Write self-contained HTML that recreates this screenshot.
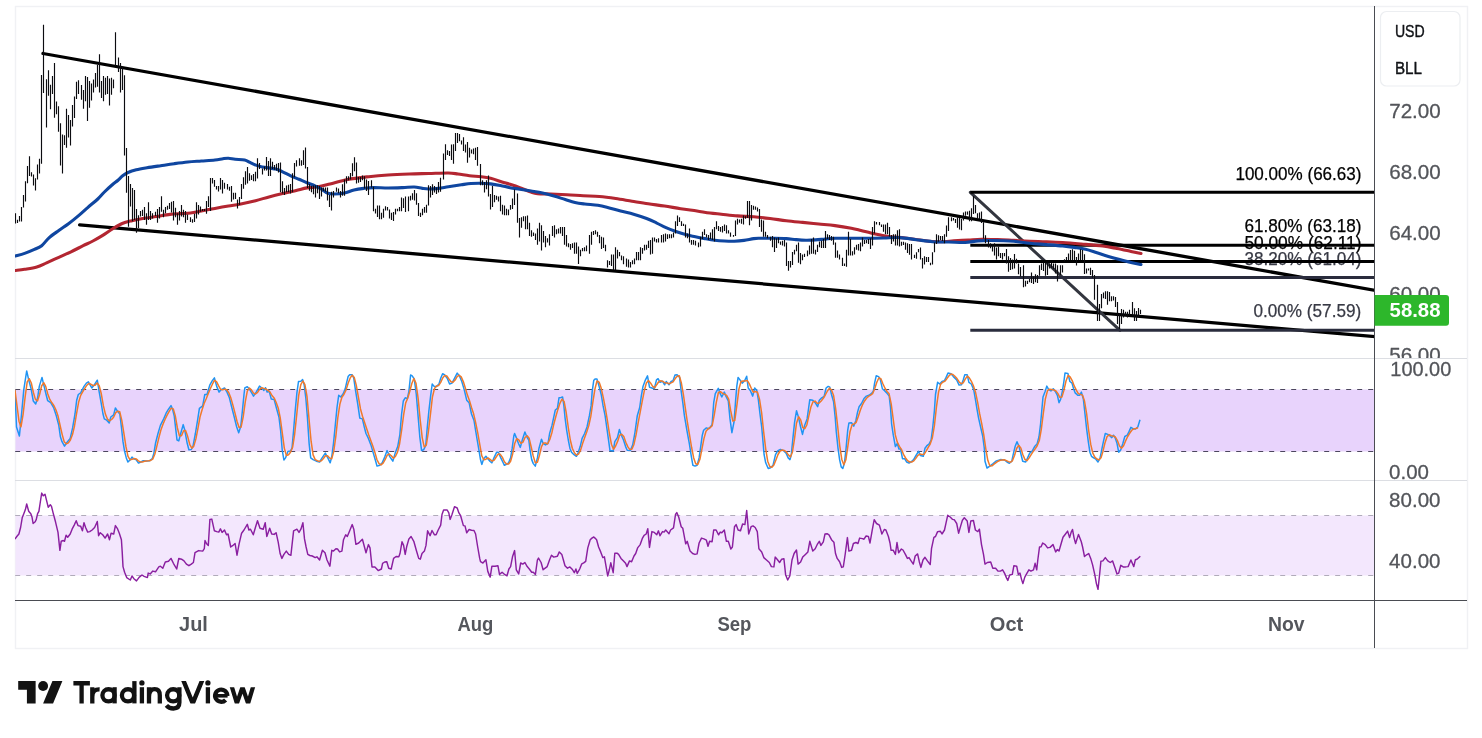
<!DOCTYPE html><html><head><meta charset="utf-8"><title>Chart</title><style>html,body{margin:0;padding:0;background:#fff}body{width:1482px;height:738px;overflow:hidden}</style></head><body><svg width="1482" height="738" viewBox="0 0 1482 738" style="display:block;font-family:'Liberation Sans',sans-serif;will-change:transform;transform:translateZ(0)"><defs><clipPath id="cm"><rect x="15" y="6" width="1359.5" height="352"/></clipPath><clipPath id="ca"><rect x="1375" y="6" width="92" height="352"/></clipPath><clipPath id="cs"><rect x="15" y="359" width="1359.5" height="121"/></clipPath><clipPath id="cr"><rect x="15" y="481" width="1359.5" height="119"/></clipPath></defs><rect width="1482" height="738" fill="#fff"/><rect x="15.5" y="6.5" width="1452" height="642" fill="none" stroke="#f0f1f4" stroke-width="1.4"/><rect x="15.5" y="389.5" width="1359" height="62" fill="#e8d3fc"/><path d="M15.2 389.5H1374M15.2 451.5H1374" stroke="#4d475f" stroke-width="1" stroke-dasharray="5 6" fill="none"/><rect x="15.5" y="515.5" width="1359" height="60" fill="#f3e7fd"/><path d="M15.2 515.5H1374M15.2 575.5H1374" stroke="#b0abba" stroke-width="1" stroke-dasharray="5 6" fill="none"/><path d="M15 358.5H1467M15 480.5H1467" stroke="#dcdee3" stroke-width="1" fill="none"/><g clip-path="url(#cm)"><path d="M43 53.5L1376 290.57M79.6 224.9L1376 336.78" stroke="#000" stroke-width="3.3" stroke-linecap="round" fill="none"/><path d="M970.3 192.3L1120 330.3" stroke="#33363f" stroke-width="3" stroke-linecap="round" fill="none"/><text x="1235.4" y="180" font-size="17.8" fill="#000" stroke="#000" stroke-width="0.25" stroke-linejoin="round" font-weight="normal" textLength="126.1" lengthAdjust="spacingAndGlyphs">100.00% (66.63)</text><text x="1244.4" y="232" font-size="17.8" fill="#000" stroke="#000" stroke-width="0.25" stroke-linejoin="round" font-weight="normal" textLength="117.1" lengthAdjust="spacingAndGlyphs">61.80% (63.18)</text><text x="1244.4" y="248.6" font-size="17.8" fill="#000" stroke="#000" stroke-width="0.25" stroke-linejoin="round" font-weight="normal" textLength="117.1" lengthAdjust="spacingAndGlyphs">50.00% (62.11)</text><text x="1244.4" y="264.8" font-size="17.8" fill="#383a45" stroke="#383a45" stroke-width="0.25" stroke-linejoin="round" font-weight="normal" textLength="117.1" lengthAdjust="spacingAndGlyphs">38.20% (61.04)</text><text x="1253.5" y="317.4" font-size="17.8" fill="#383a45" stroke="#383a45" stroke-width="0.25" stroke-linejoin="round" font-weight="normal" textLength="107.7" lengthAdjust="spacingAndGlyphs">0.00% (57.59)</text><path d="M970.3 192.3H1375" stroke="#000" stroke-width="3" fill="none"/><path d="M970.3 245.3H1375" stroke="#000" stroke-width="3" fill="none"/><path d="M970.3 261.5H1375" stroke="#000" stroke-width="3" fill="none"/><path d="M970.3 277.4H1375" stroke="#2a2c3d" stroke-width="3" fill="none"/><path d="M970.3 330.3H1375" stroke="#2a2c3d" stroke-width="3" fill="none"/><path d="M15.5 270.5C17.02 270.30 21.05 269.88 24.6 269.3C28.15 268.72 33.13 268.08 36.8 267C40.47 265.92 42.93 264.42 46.6 262.8C50.27 261.18 54.73 259.13 58.8 257.3C62.87 255.47 66.93 253.73 71 251.8C75.07 249.87 79.55 247.50 83.2 245.7C86.85 243.90 89.65 242.72 92.9 241C96.15 239.28 99.45 237.40 102.7 235.4C105.95 233.40 109.15 230.98 112.4 229C115.65 227.02 118.93 224.88 122.2 223.5C125.47 222.12 128.35 221.57 132 220.7C135.65 219.83 140.05 219.00 144.1 218.3C148.15 217.60 151.98 217.15 156.3 216.5C160.62 215.85 165.92 214.88 170 214.4C174.08 213.92 177.38 213.83 180.8 213.6C184.22 213.37 187.08 213.43 190.5 213C193.92 212.57 197.23 211.77 201.3 211C205.37 210.23 210.38 209.23 214.9 208.4C219.42 207.57 223.88 206.78 228.4 206C232.92 205.22 237.48 204.58 242 203.7C246.52 202.82 251.00 201.83 255.5 200.7C260.00 199.57 264.48 198.10 269 196.9C273.52 195.70 278.07 194.58 282.6 193.5C287.13 192.42 292.13 191.33 296.2 190.4C300.27 189.47 303.37 188.50 307 187.9C310.63 187.30 314.17 187.45 318 186.8C321.83 186.15 325.08 185.22 330 184C334.92 182.78 341.05 180.72 347.5 179.5C353.95 178.28 361.95 177.45 368.7 176.7C375.45 175.95 381.23 175.45 388 175C394.77 174.55 402.50 174.25 409.3 174C416.10 173.75 422.30 173.67 428.8 173.5C435.30 173.33 443.43 172.92 448.3 173C453.17 173.08 454.47 173.55 458 174C461.53 174.45 465.68 175.25 469.5 175.7C473.32 176.15 477.38 176.27 480.9 176.7C484.42 177.13 487.08 177.43 490.6 178.3C494.12 179.17 498.77 180.90 502 181.9C505.23 182.90 507.03 183.35 510 184.3C512.97 185.25 516.30 186.32 519.8 187.6C523.30 188.88 528.03 191.00 531 192C533.97 193.00 534.32 193.27 537.6 193.6C540.88 193.93 545.80 193.82 550.7 194C555.60 194.18 561.58 194.42 567 194.7C572.42 194.98 577.80 195.40 583.2 195.7C588.60 196.00 593.98 196.03 599.4 196.5C604.82 196.97 610.27 197.72 615.7 198.5C621.13 199.28 626.58 200.32 632 201.2C637.42 202.08 642.78 203.00 648.2 203.8C653.62 204.60 659.08 205.18 664.5 206C669.92 206.82 675.28 207.87 680.7 208.7C686.12 209.53 692.12 210.28 697 211C701.88 211.72 705.95 212.47 710 213C714.05 213.53 716.72 213.72 721.3 214.2C725.88 214.68 732.08 215.47 737.5 215.9C742.92 216.33 748.38 216.37 753.8 216.8C759.22 217.23 764.58 217.85 770 218.5C775.42 219.15 780.87 220.05 786.3 220.7C791.73 221.35 797.18 221.85 802.6 222.4C808.02 222.95 813.40 223.47 818.8 224C824.20 224.53 829.58 224.90 835 225.6C840.42 226.30 846.97 227.38 851.3 228.2C855.63 229.02 857.73 229.70 861 230.5C864.27 231.30 867.63 232.25 870.9 233C874.17 233.75 877.35 234.38 880.6 235C883.85 235.62 886.33 236.20 890.4 236.7C894.47 237.20 900.07 237.45 905 238C909.93 238.55 915.42 239.42 920 240C924.58 240.58 928.50 241.22 932.5 241.5C936.50 241.78 940.47 241.80 944 241.7C947.53 241.60 949.65 241.18 953.7 240.9C957.75 240.62 963.70 240.28 968.3 240C972.90 239.72 976.42 239.27 981.3 239.2C986.18 239.13 992.18 239.40 997.6 239.6C1003.02 239.80 1008.40 240.13 1013.8 240.4C1019.20 240.67 1024.58 240.98 1030 241.2C1035.42 241.42 1040.87 241.48 1046.3 241.7C1051.73 241.92 1056.77 242.12 1062.6 242.5C1068.43 242.88 1074.62 243.42 1081.3 244C1087.98 244.58 1096.77 245.25 1102.7 246C1108.63 246.75 1112.18 247.60 1116.9 248.5C1121.62 249.40 1126.98 250.57 1131 251.4C1135.02 252.23 1139.33 253.15 1141 253.5" fill="none" stroke="#b32631" stroke-width="3.1" stroke-linejoin="round" stroke-linecap="round"/><path d="M15.5 255.9C17.02 255.48 21.45 254.48 24.6 253.4C27.75 252.32 31.55 250.68 34.4 249.4C37.25 248.12 39.27 247.63 41.7 245.7C44.13 243.77 46.15 240.33 49 237.8C51.85 235.27 55.55 232.83 58.8 230.5C62.05 228.17 65.25 226.23 68.5 223.8C71.75 221.37 75.05 218.65 78.3 215.9C81.55 213.15 84.75 210.12 88 207.3C91.25 204.48 95.07 201.55 97.8 199C100.53 196.45 102.03 194.33 104.4 192C106.77 189.67 109.73 186.95 112 185C114.27 183.05 116.22 181.83 118 180.3C119.78 178.77 121.03 177.10 122.7 175.8C124.37 174.50 125.73 173.50 128 172.5C130.27 171.50 133.13 170.58 136.3 169.8C139.47 169.02 142.93 168.48 147 167.8C151.07 167.12 156.17 166.38 160.7 165.7C165.23 165.02 169.68 164.32 174.2 163.7C178.72 163.08 183.28 162.45 187.8 162C192.32 161.55 196.78 161.33 201.3 161C205.82 160.67 211.28 160.38 214.9 160C218.52 159.62 220.75 158.98 223 158.7C225.25 158.42 226.37 158.22 228.4 158.3C230.43 158.38 232.48 158.92 235.2 159.2C237.92 159.48 242.23 159.47 244.7 160C247.17 160.53 248.20 161.57 250 162.4C251.80 163.23 253.45 164.23 255.5 165C257.55 165.77 258.92 166.33 262.3 167C265.68 167.67 272.42 168.20 275.8 169C279.18 169.80 280.12 170.65 282.6 171.8C285.08 172.95 287.98 174.65 290.7 175.9C293.42 177.15 296.18 178.17 298.9 179.3C301.62 180.43 304.32 181.62 307 182.7C309.68 183.78 312.58 184.72 315 185.8C317.42 186.88 319.33 187.95 321.5 189.2C323.67 190.45 325.83 192.50 328 193.3C330.17 194.10 331.78 194.05 334.5 194C337.22 193.95 341.05 193.67 344.3 193C347.55 192.33 350.75 190.77 354 190C357.25 189.23 360.55 188.80 363.8 188.4C367.05 188.00 369.47 187.67 373.5 187.6C377.53 187.53 383.12 188.00 388 188C392.88 188.00 398.43 187.77 402.8 187.6C407.17 187.43 410.95 186.87 414.2 187C417.45 187.13 419.87 188.07 422.3 188.4C424.73 188.73 426.08 189.00 428.8 189C431.52 189.00 435.35 188.77 438.6 188.4C441.85 188.03 444.52 187.40 448.3 186.8C452.08 186.20 457.52 185.35 461.3 184.8C465.08 184.25 467.73 183.77 471 183.5C474.27 183.23 477.63 183.13 480.9 183.2C484.17 183.27 487.35 183.52 490.6 183.9C493.85 184.28 497.17 184.87 500.4 185.5C503.63 186.13 506.77 187.08 510 187.7C513.23 188.32 516.30 188.65 519.8 189.2C523.30 189.75 527.22 190.37 531 191C534.78 191.63 538.67 192.17 542.5 193C546.33 193.83 550.20 194.90 554 196C557.80 197.10 561.80 198.52 565.3 199.6C568.80 200.68 571.75 201.77 575 202.5C578.25 203.23 581.00 203.53 584.8 204C588.60 204.47 594.00 204.73 597.8 205.3C601.60 205.87 603.80 206.45 607.6 207.4C611.40 208.35 616.27 209.87 620.6 211C624.93 212.13 629.27 212.95 633.6 214.2C637.93 215.45 642.82 217.07 646.6 218.5C650.38 219.93 653.07 221.27 656.3 222.8C659.53 224.33 662.73 226.25 666 227.7C669.27 229.15 672.63 230.35 675.9 231.5C679.17 232.65 682.35 233.73 685.6 234.6C688.85 235.47 692.17 236.03 695.4 236.7C698.63 237.37 701.77 238.02 705 238.6C708.23 239.18 711.55 239.80 714.8 240.2C718.05 240.60 721.25 240.83 724.5 241C727.75 241.17 731.05 241.30 734.3 241.2C737.55 241.10 740.75 240.83 744 240.4C747.25 239.97 751.08 238.95 753.8 238.6C756.52 238.25 757.05 238.35 760.3 238.3C763.55 238.25 768.97 238.25 773.3 238.3C777.63 238.35 782.52 238.38 786.3 238.6C790.08 238.82 792.75 239.33 796 239.6C799.25 239.87 802.53 240.15 805.8 240.2C809.07 240.25 812.35 240.10 815.6 239.9C818.85 239.70 822.07 239.27 825.3 239C828.53 238.73 830.67 238.42 835 238.3C839.33 238.18 845.87 238.30 851.3 238.3C856.73 238.30 862.17 238.35 867.6 238.3C873.03 238.25 878.50 238.12 883.9 238C889.30 237.88 894.60 237.32 900 237.6C905.40 237.88 910.88 239.02 916.3 239.7C921.72 240.38 927.08 241.32 932.5 241.7C937.92 242.08 943.38 241.87 948.8 242C954.22 242.13 960.13 242.68 965 242.5C969.87 242.32 973.67 241.23 978 240.9C982.33 240.57 985.03 240.43 991 240.5C996.97 240.57 1007.30 240.83 1013.8 241.3C1020.30 241.77 1024.58 242.75 1030 243.3C1035.42 243.85 1040.87 244.15 1046.3 244.6C1051.73 245.05 1057.95 245.53 1062.6 246C1067.25 246.47 1070.37 246.87 1074.2 247.4C1078.03 247.93 1081.80 248.30 1085.6 249.2C1089.40 250.10 1093.20 251.60 1097 252.8C1100.80 254.00 1104.62 255.27 1108.4 256.4C1112.18 257.53 1115.93 258.58 1119.7 259.6C1123.47 260.62 1127.45 261.68 1131 262.5C1134.55 263.32 1139.33 264.17 1141 264.5" fill="none" stroke="#0f46a0" stroke-width="3.1" stroke-linejoin="round" stroke-linecap="round"/><path d="M15.5 213.2V223.4M17.5 219.8V223M19.5 216V221.5M21.5 207V221.5M23.5 194.9V207.6M25.5 181.2V201.5M27.5 166V183.2M29.5 156.3V175.9M31.5 172.2V176.6M33.5 174.6V185.6M35.5 178.3V190.5M37.5 164.4V179.5M39.5 158.8V173.4M41.5 75V163.7M43.5 24.8V93M46.5 79.2V127.6M48.5 70.3V95.8M50.5 84.7V109.2M52.5 76V94M54.5 63.1V117.8M56.5 101.4V114.2M58.5 106.2V131.7M60.5 123.3V165.5M62.5 134.6V173.4M64.5 135.2V145M66.5 108.8V147.8M68.5 115V137.5M70.5 120V145.5M72.5 104.9V126.5M74.5 96.5V118.1M76.5 81.8V98.9M78.5 80.2V94M81.5 85V99.7M83.5 90V108.7M85.5 76.1V101.3M87.5 76.9V120.9M89.5 81V107.8M91.5 83.4V100.5M93.5 79.4V92.4M95.5 72.9V87.5M97.5 64.7V86.7M99.5 54.2V92.4M101.5 81V98M103.5 76.1V101.3M105.5 77.8V94.8M107.5 76.1V94M109.5 78.6V105.4M111.5 77.8V94.8M113.5 79.4V88.3M115.5 32.2V65.6M118.5 57.4V72M120.5 63.1V92.4M122.5 66.4V90M124.5 75.3V155.6M126.5 148.1V192.8M128.5 175.9V226.7M130.5 184V206.4M132.5 188.1V221.3M134.5 190.1V219.9M136.5 209.1V232.8M138.5 215.2V228.1M140.5 211.1V216.6M142.5 209.8V215.9M144.5 207.1V219.9M146.5 213.2V224.7M148.5 202.3V219.9M150.5 211.1V219.9M152.5 213.2V218.6M155.5 211.8V215.9M157.5 209.1V222.7M159.5 207.1V218.6M161.5 196.2V211.8M163.5 209.8V217.2M165.5 207.1V213.2M167.5 205.7V209.8M169.5 203V209.1M171.5 201.7V212.5M173.5 201V220.6M175.5 207.8V217.2M177.5 213.2V224.7M179.5 211.1V220.6M181.5 205V216.6M183.5 209.8V217.2M185.5 211.1V222.7M187.5 214.5V219.9M190.5 217.2V222M192.5 219.3V222.7M194.5 213.8V222M196.5 202.3V218.6M198.5 205V214.5M200.5 206.4V211.8M202.5 209.1V211.1M204.5 209.1V211.1M206.5 201V213.8M208.5 196.2V207.1M210.5 177.9V211.1M212.5 177.9V183.4M214.5 180V186.7M216.5 186.1V189.5M218.5 186.1V191.5M220.5 177.9V189.5M222.5 180V193.5M224.5 182.7V188.8M227.5 184V189.5M229.5 186.7V190.8M231.5 186.1V201.7M233.5 192.8V199.6M235.5 192.8V198.9M237.5 199.6V208.4M239.5 196.9V205M241.5 184V198.9M243.5 177.3V188.8M245.5 171.2V184.7M247.5 167.1V183.4M249.5 173.2V180.7M251.5 175.2V180M253.5 173.9V181.3M255.5 171.8V181.3M257.5 158.3V178.6M259.5 163V169.1M262.5 168.5V174.6M264.5 166.4V170.5M266.5 156.9V170.5M268.5 161V175.9M270.5 158.3V175.9M272.5 161.7V169.1M274.5 165.1V169.8M276.5 163.7V170.5M278.5 163V172.5M280.5 162.4V192.2M282.5 181.3V193.5M284.5 188.1V194.9M286.5 185.4V192.2M288.5 184.7V192.2M290.5 184V193.5M292.5 173.2V192.2M294.5 163V177.3M296.5 160.3V166.4M299.5 158.3V165.7M301.5 160.3V165.7M303.5 150.2V165.1M305.5 147.5V168.5M307.5 167.1V188.1M309.5 184V190.8M311.5 186.1V192.2M313.5 185.4V194.2M315.5 185.2V197.4M317.5 185.2V193.3M319.5 186V199M321.5 187.6V196.5M323.5 187.6V190.9M325.5 187.6V191.7M327.5 187.6V200.6M329.5 194.9V207.1M331.5 191.7V210.4M333.5 190.9V197.4M336.5 187.6V191.7M338.5 188.4V193.3M340.5 190.9V197.4M342.5 184.3V195.7M344.5 179.5V195.7M346.5 176.2V183.5M348.5 176.2V180.3M350.5 173V179.5M352.5 163.2V176.2M354.5 157.2V171.3M356.5 162.4V183.5M358.5 177V182.7M360.5 177V181.9M362.5 175.4V180.3M364.5 176.2V188.4M366.5 179.5V190.9M368.5 181.1V194.9M371.5 180.3V187.6M373.5 186.8V211.2M375.5 208.7V213.6M377.5 205.5V216.9M379.5 205.5V219.3M381.5 212.8V219.3M383.5 208.7V217.7M385.5 206.3V210.4M387.5 207.1V210.4M389.5 209.6V218.5M391.5 212.8V220.1M393.5 212V220.9M395.5 208.7V214.4M397.5 208.7V211.2M399.5 207.1V211.2M401.5 197.4V211.2M403.5 198.2V207.9M405.5 196.5V212M408.5 196.5V211.2M410.5 195.7V200.6M412.5 193.3V199.8M414.5 190V200.6M416.5 193.3V204.7M418.5 203V216.1M420.5 212.8V216.9M422.5 208.7V215.2M424.5 207.1V212.8M426.5 204.7V212.8M428.5 185.2V205.5M430.5 186V197.4M432.5 184.3V194.9M434.5 186V192.5M436.5 187.6V194.1M438.5 181.9V192.5M440.5 177.8V191.7M443.5 153.5V179.5M445.5 144.2V160M447.5 150.2V155.1M449.5 151V155.9M451.5 144.5V160M453.5 144.2V163.7M455.5 133.1V151M457.5 133.1V142.9M459.5 133.9V141.3M461.5 140.4V144.5M463.5 137.2V151M465.5 144.5V152.6M467.5 142.1V162.7M469.5 147.8V157.5M471.5 149.4V153.5M473.5 148.6V154.3M475.5 147.8V160M477.5 147V165.7M480.5 164V185.2M482.5 180.3V185.2M484.5 181.9V192.5M486.5 180.3V189.2M488.5 175.4V196.5M490.5 194.1V209.6M492.5 186V207.1M494.5 194.9V202.2M496.5 195.7V199.8M498.5 196.5V201.4M500.5 195.7V211.2M502.5 204.7V214.4M504.5 205.5V215.2M506.5 208.7V215.2M508.5 209.6V215.2M510.5 205V209.8M512.5 198.5V209M514.5 189.5V205M517.5 193.6V222.8M519.5 218V237.5M521.5 217.2V227.7M523.5 216.3V221.2M525.5 216.3V229.3M527.5 215.5V229.3M529.5 222.8V235.9M531.5 230.2V236.7M533.5 232.6V235.9M535.5 233.4V239.9M537.5 228.5V244.8M539.5 222.8V241.5M541.5 225.3V250.5M543.5 231V242.4M545.5 235.9V247.2M547.5 238.3V242.4M549.5 234.2V245.6M552.5 226.1V235.9M554.5 225.3V237.5M556.5 229.3V234.2M558.5 228.5V233.4M560.5 226.9V233.4M562.5 226.9V235.9M564.5 226.9V244.8M566.5 235V246.4M568.5 243.2V247.2M570.5 244V249.7M572.5 243.2V248M574.5 242.4V253.7M576.5 242.4V253.7M578.5 246.4V264M580.5 249.7V256.2M582.5 248V251.3M584.5 247.2V251.3M586.5 245.6V251.3M589.5 235V253.7M591.5 231.8V244.8M593.5 231V235M595.5 230.2V234.2M597.5 231.8V236.7M599.5 235V243.2M601.5 236.7V248.9M603.5 237.5V248M605.5 244.8V251.3M607.5 260.2V267.6M609.5 261.1V265.1M611.5 254.6V265.9M613.5 254.6V270M615.5 247.2V270M617.5 249.7V258.6M619.5 252.1V256.2M621.5 255.4V260.2M623.5 256.2V264.3M626.5 258.6V266.7M628.5 259.4V267.6M630.5 261.9V267.6M632.5 260.2V264.3M634.5 258.6V264.3M636.5 252.1V260.2M638.5 252.1V260.2M640.5 247.2V260.2M642.5 248V253.7M644.5 244.8V250.5M646.5 244.8V249.7M648.5 240.7V248M650.5 239.9V254.6M652.5 237.5V253.7M654.5 237.5V241.5M656.5 239.1V242.4M658.5 238.3V242.4M661.5 235V242.4M663.5 234.2V242.4M665.5 233.4V241.5M667.5 234.2V239.1M669.5 234.2V238.3M671.5 234.2V238.3M673.5 232.6V237.5M675.5 221.2V233.4M677.5 215.5V226.1M679.5 217.2V222M681.5 221.2V226.1M683.5 223.7V226.1M685.5 224.5V237.5M687.5 233.4V238.3M689.5 228.5V242.4M691.5 239.9V244.8M693.5 239.9V244.8M695.5 240.7V245.6M698.5 242.4V247.2M700.5 236.7V246.4M702.5 231.8V239.1M704.5 229.3V235M706.5 234.2V237.5M708.5 235V239.9M710.5 232.6V239.1M712.5 229.3V239.9M714.5 226.9V241.5M716.5 221.2V229.3M718.5 226.1V231M720.5 226.9V231.8M722.5 226.1V232.6M724.5 224.5V231M726.5 225.3V233.4M728.5 230.2V233.4M730.5 232.6V236.7M733.5 235V236.7M735.5 220.4V235.9M737.5 218.8V224.5M739.5 219.6V222.8M741.5 218.8V223.7M743.5 215.5V224.5M745.5 216.3V218.8M747.5 200.9V218M749.5 200.9V225.3M751.5 205V220.4M753.5 205.8V209.8M755.5 206.6V209.8M757.5 207.4V211.5M759.5 209V226.9M761.5 219.6V231.8M763.5 220.4V236.7M765.5 231.8V236.7M767.5 235V238.3M770.5 236.7V240.7M772.5 235.9V247.2M774.5 237.5V252.1M776.5 238.3V248M778.5 237.5V243.2M780.5 241.5V244.8M782.5 240.7V245.6M784.5 239.9V246.4M786.5 242.4V265.9M788.5 261.1V270.8M790.5 261.1V267.6M792.5 252.1V265.1M794.5 249.7V254.6M796.5 244.8V251.3M798.5 242.4V262.7M800.5 252.9V264.3M802.5 254.6V260.2M804.5 253.7V257M807.5 250.5V256.2M809.5 245.6V254.6M811.5 239.1V253.7M813.5 237.5V253.7M815.5 249.7V254.6M817.5 244.8V252.1M819.5 241.5V247.2M821.5 240.7V248M823.5 239.1V248M825.5 231V248M827.5 234.2V239.1M829.5 235V239.9M831.5 235.9V240.7M833.5 236.7V244.8M835.5 242.4V257.8M837.5 250.5V257.8M839.5 254.6V259.4M842.5 257.8V265.9M844.5 263.5V265.9M846.5 249.7V266.7M848.5 231.8V255.4M850.5 239.1V255.4M852.5 251.3V255.4M854.5 247.2V254.6M856.5 244.8V249.7M858.5 244V250.5M860.5 242.4V251.3M862.5 237.5V246.4M864.5 239.9V244M866.5 239.9V243.2M868.5 239.1V244M870.5 238.3V248.9M872.5 226.9V245.6M874.5 221.2V233.4M876.5 222V224.5M879.5 222V225.3M881.5 224.5V226.9M883.5 224.5V231.8M885.5 224.5V234.2M887.5 222.8V234.2M889.5 226.9V236.7M891.5 235V244M893.5 234.2V241.5M895.5 234.2V245.6M897.5 230.2V245.6M899.5 229.3V246.4M901.5 241.7V245.7M903.5 241.7V244.9M905.5 242.5V249.8M907.5 243.3V253M909.5 244.1V254.7M911.5 244.1V259.6M914.5 254.7V257.9M916.5 252.2V258.7M918.5 249V252.2M920.5 247.4V259.6M922.5 257.9V268.5M924.5 256.3V264.4M926.5 257.1V262M928.5 257.1V262M930.5 262.8V265.2M932.5 252.2V264.4M934.5 242.5V252.2M936.5 234.3V244.1M938.5 235.2V241.7M940.5 236V240M942.5 236V240.9M944.5 234.3V243.3M946.5 225.4V236.8M948.5 217.3V231.1M951.5 217.3V221.3M953.5 218.1V220.5M955.5 218.9V223M957.5 217.3V227.8M959.5 218.1V229.5M961.5 218.9V230.3M963.5 212.4V220.5M965.5 211.6V215.7M967.5 211.6V214.8M969.5 210.8V221.3M971.5 208.3V221.3M973.5 196.1V214M975.5 205.1V213.2M977.5 213.2V218.9M979.5 212.4V218.9M981.5 211.6V223M983.5 222.2V238.4M985.5 235.2V243.3M988.5 240V247.4M990.5 243.3V248.2M992.5 244.1V251.4M994.5 243.3V255.5M996.5 247.4V259.6M998.5 246.5V256.3M1000.5 253V257.9M1002.5 253V259.6M1004.5 253V256.3M1006.5 249V263.6M1008.5 256.3V271.7M1010.5 257.9V270.1M1012.5 259.6V269.3M1014.5 253.9V268.5M1016.5 258.7V263.6M1018.5 263.6V274.2M1020.5 266.9V276.6M1023.5 265.2V287.2M1025.5 280.7V286.4M1027.5 280.7V283.9M1029.5 279.1V282.3M1031.5 272.6V283.1M1033.5 276.6V283.9M1035.5 274.2V282.3M1037.5 275V283.1M1039.5 265.2V275.8M1041.5 263.6V270.1M1043.5 262.8V270.9M1045.5 262.8V275.8M1047.5 262.8V275M1049.5 263.6V268.5M1051.5 262.8V267.7M1053.5 263.6V269.3M1055.5 263.6V273.4M1057.5 265.2V281.5M1060.5 265.2V275M1062.5 265.2V272.6M1064.5 259.2V261.3M1066.5 257.1V259.9M1068.5 253.5V259.9M1070.5 250V259.9M1072.5 249.2V259.9M1074.5 250.7V259.9M1076.5 257.1V265.6M1078.5 253.5V259.9M1080.5 249.2V259.9M1082.5 250V259.9M1084.5 254.2V274.1M1086.5 268.4V273.4M1088.5 268.4V270.6M1090.5 267.7V274.9M1092.5 269.9V277.7M1094.5 274.9V299.7M1097.5 284.8V321.1M1099.5 304V321.1M1101.5 294.1V308.3M1103.5 292.6V298.3M1105.5 291.2V299M1107.5 291.2V304.7M1109.5 291.9V301.2M1111.5 296.2V301.2M1113.5 296.2V300.5M1115.5 296.9V306.9M1117.5 301.9V323.9M1119.5 313.3V328.9M1121.5 309V323.9M1123.5 309.7V317.5M1125.5 311.8V315.4M1127.5 311.8V317.5M1129.5 309.7V315.4M1132.5 301.9V315.4M1134.5 308.3V321.1M1136.5 311.1V321.1M1138.5 308V317.5M1140.5 309.7V314" stroke="#0c0c10" stroke-width="1.15" fill="none"/></g><g clip-path="url(#cs)"><polyline points="14.9,389.6 16.5,427 19.4,436 21.4,415.7 23.8,389.6 26.7,370.9 28.7,379.9 31.1,388.8 33.3,401 35.7,404 37.6,397.8 39.3,386.4 42,377.4 44.1,386.4 46.1,394.5 47.7,400.7 50.7,402.7 53.6,407.5 56.3,415.7 58.8,425.4 60.4,436.8 62,441.7 64.5,446.2 66.9,442.5 70.2,438.4 72.6,427.9 75,414 76.7,400.2 78.3,394.5 80.7,392.9 84,386.4 86.4,383.1 88.4,381.8 90.5,385.6 91.8,388 94.6,384.4 97.3,380.2 99.1,391.3 101.1,402.7 103,414 104.3,418.9 106.7,420.2 109.2,423 110.8,417 113.7,414.8 115.4,408 117.3,410.8 119.8,414 121.4,427 123,441.7 124.6,451.4 126.3,457.9 127.9,462 130.3,459.6 132,457.1 133.6,458.7 136,459.6 138.5,463.1 140.9,462 143.3,460.7 146.6,460.9 149.8,460.7 152.3,458.7 153.9,453.1 155.5,443.3 158,433.5 160.4,425.4 163.7,418.9 166.1,413.2 168.5,409.2 171,405.6 172.6,409.2 174.2,415.7 175.9,430.3 177,440 178.8,440.9 180.7,433.5 183.2,424.6 184.8,430.3 187.2,443.3 188.9,449.8 191.3,449.5 192.9,446.6 195.4,433.5 197.8,418.9 199.4,408.3 202.7,405.9 204.8,394.5 207,394.5 209.9,384.8 212.3,380.7 214.4,377.9 216.7,386.4 219.1,392.1 221.3,389.6 224.5,388 227,392.1 229.4,397.8 231.8,407.5 234.3,417.3 236.7,427 238.7,432.7 240.8,426.2 242.4,410.8 244,394.5 244.8,388 247.3,386.7 249.7,389.6 251.7,392.9 253.5,396.1 256.2,392.1 259.5,386.1 261.9,388 263.9,390.5 265.5,387.7 267.1,392.1 269.2,391.3 271.3,399.1 274.1,399.4 276.5,408.3 279,417.3 280.6,430.3 282.2,449.8 283.9,460 285.5,457.9 287.9,451.4 290.4,451.1 292,448.2 293.6,430.3 295.2,410.8 296.9,392.9 298.5,381.5 300.9,381.2 302.6,379.6 304.2,384.8 305.8,397.8 307.4,417.3 309.1,443.3 310.7,457.9 313.1,459.6 316.4,461.2 319.6,462 322.1,457.9 325.3,453.1 327.8,457.9 330.2,462.8 331.8,456.3 333.5,443.3 335.1,427 337,407.5 338.7,395.3 340.8,397 343.2,393.7 345.2,388.8 346.5,383.1 348.1,376.6 349.7,374.7 352.2,374.7 353.8,378.3 355.4,389.6 357.8,404.3 359.8,418.1 362.4,418.9 364.3,427 366,433.5 368.4,438.4 370.9,444.9 373.3,453.1 375.7,461.2 377,466.1 379.8,465.3 382.2,462.8 384.7,457.1 387.1,450.6 389.6,456.3 392.8,461.2 395.2,453.1 397.7,446.6 399.8,435.2 401.6,414 403.3,401 405.2,397.8 407.3,398.6 408.9,391.3 410.6,375 412.2,375.8 414.3,379.1 416.3,394.5 418.2,417.3 419.8,436.8 421.6,450.6 423.6,449.8 425.7,445.7 427.3,427 428.9,410.8 430.6,396.1 432.2,384 434.1,386.4 436.6,386.4 439,384 440.7,378.3 442.6,373.7 444.7,375 447.2,378.3 449.6,384 452,383.1 454.5,378.3 457.2,373.1 459.3,375.8 461.8,381.5 464.2,389.6 466.7,400.2 469.1,402.7 471.5,414 474,420.5 475.6,430.3 477.2,440 478.9,449.8 480.5,459.6 481.8,464.4 483.7,458.7 485.9,456.3 487.8,458.7 490.2,461.5 491.9,462.8 494.3,457.1 496.7,452.2 498.4,452.2 500.8,457.9 502.8,462 504.4,465.3 506.5,464.4 508.6,462.8 510.6,457.9 512.2,448.2 513.8,436 514.6,433.5 516.3,437.6 518.4,443.3 520.3,447.4 522.3,440 524.9,431.9 526.8,436.8 528.8,440 530.1,450.6 531.7,459.6 533.3,463.6 535.3,466.1 537.4,457.9 539,448.2 541.5,439.2 543.1,443.3 545.5,444.9 548,443.3 549.6,433.5 552,425.4 553.7,417.3 555.3,410 557.4,408.3 559,397.8 561,397.4 562.6,397 563.9,405.9 565,417.3 566.7,430.3 568.3,440 569.9,448.2 571.5,452.2 574,454.7 576.4,456.3 578,453.1 580.2,446.6 582.1,438.4 584.6,433.5 587,427 589.4,415.7 591.1,405.9 592.2,391.3 593.8,380.2 595,379.1 597,379.1 599.1,386.4 601.2,394.5 603.1,405.9 605.1,415.7 606.7,427 608.3,438.4 610,450.6 613.2,451.1 614.8,441.7 617.4,437.6 619.4,429.5 621,434.4 623.5,440 625.6,446.6 627.2,450.3 630.4,450.6 632.7,444.9 634.8,433.5 637.3,415.7 639.7,407.5 641.3,396.1 643,386.4 645.1,380.7 647.5,375.8 649.5,387.2 651.9,388 654.3,388.8 656.5,379.9 658.1,378.7 660,382.3 662.5,381.2 664.6,384.8 666.2,381.5 669,384.8 671.1,381.5 673,380.7 675,375 677.1,374.7 679.6,377.4 681.2,391.3 682.8,402.7 684.4,415.7 686.9,430.3 689.3,443.3 691.3,456.3 692.9,465.3 695,466.1 697.1,465.3 699.1,457.9 700.7,446.6 702.3,435.2 703.6,430.3 706.4,427.9 708.8,428.7 712.1,424.6 713.7,402.7 715.3,393.7 718.3,388.3 720.2,393.7 721.8,397 724.3,392.1 725.9,396.1 728.3,401 730,418.9 731.9,432.7 734,422.2 735.7,399.4 736.8,386.4 738.1,377.4 740,379.9 742.2,383.1 744.6,380.7 746.7,376.3 748.2,388 750.3,390.5 752.7,396.1 754.7,388 756.8,390.5 758.4,400.2 760,414 761.7,427 763,441.7 764.1,454.7 765.7,462.8 768.2,468.5 770.6,467.7 773,465.3 775.5,454.7 777.9,450.6 780.4,449.5 783.6,450.6 786.1,453.1 788.2,457.9 790,459.6 791.3,454.7 792.9,438.4 794.6,422.2 796.5,410.8 798.5,417.3 800.6,427 802.5,434.4 804.6,425.4 807.1,418.9 808.7,407.5 809.8,399.7 812.8,400.2 815.2,402.7 817.6,406.7 819.3,400.2 821.7,397.8 824.1,396.5 826.1,388 828.2,386.4 829.8,387.2 831.5,394.5 833.6,401.8 835.2,417.3 836.3,431.9 838,448.2 839.6,459.6 841.2,466.9 842.8,468.5 844.5,462.8 846.1,448.2 847.7,430.3 848.9,423 851.5,422.7 853.7,426.2 855.9,420.5 857.5,412.4 859.1,406.7 861.5,403.5 864,398.6 866.4,396.1 868.9,395.3 871.3,393.7 873.3,391.3 874.6,383.1 876.2,375.8 878.6,376.6 880.2,379.1 882.4,388.8 884.3,390.5 886.7,392.9 889.2,396.1 890.5,407.5 891.6,423.8 893.3,435.2 895.4,446.6 897.3,443.3 898.9,449 900.6,449 902.5,458.7 904.6,458.7 906.7,462 909,463.1 911.6,461.5 913.6,459.6 916,455.5 918.5,451.4 920.4,455.5 923.3,456.3 925,448.2 926.9,445.7 929,444.1 931.1,440 932.8,427 934.4,410.8 935.5,394.5 937.6,382.3 939.6,384 942,381.5 944.5,380.7 946.1,377.4 948,373.1 951,373.7 953.4,376.6 956.7,379.9 959.1,385.1 961.5,384.8 963.2,379.9 964.8,374.7 967.2,374.7 968.9,382.3 971.3,384 973.7,389.6 975.4,399.4 977,409.2 978.6,418.1 980.6,427 982.7,436 984.3,448.2 985,461.2 987,468 989.9,466.1 993.1,463.6 996.4,460.9 1000.4,459.6 1004.5,460 1007,462 1009.4,463.3 1011.8,461.2 1013.5,453.1 1015.1,446.6 1017,441.7 1019.1,446.6 1021.1,454.7 1022.7,461.2 1025.7,462 1027.6,457.9 1029.7,453.1 1032.2,451.1 1034.6,446.6 1037,444.1 1039,436.8 1040.6,423.8 1041.9,409.2 1043,397 1045.2,391.3 1046.8,386.1 1048.7,389.6 1050.9,390.9 1053.3,388.8 1055.7,392.1 1057.4,395.3 1059,402.7 1060.6,399.4 1062.2,392.1 1063.9,381.5 1065,373.1 1067.9,373.4 1069.9,381.5 1072,383.1 1073.6,388.8 1075.2,392.9 1077.7,395.3 1079.6,395.3 1081.4,392.1 1083.4,399.4 1085,414 1086.6,428.7 1088.3,441.7 1089.9,452.2 1091.5,456.3 1093.6,457.9 1095.9,459.2 1098,462 1100.1,457.9 1101.7,449.8 1103.4,441.7 1105.3,433.5 1107.8,434.4 1109.9,436 1111.8,437.6 1113.5,435.2 1115.4,438.4 1117,443.3 1118.7,452.2 1120.8,449.8 1122.9,443.3 1124.8,436.5 1127.3,435.2 1128.9,431.9 1130.9,427.4 1133,428.7 1135.4,429 1137.8,427 1140,419.7" fill="none" stroke="#2094f3" stroke-width="1.5" stroke-linejoin="round"/><polyline points="14.9,389.6 16.9,405.1 19,421.2 21,426.9 23.1,414.3 25.2,396.3 27.2,381.9 29.3,378.7 31.3,383 33.4,392.5 35.4,399.4 37.5,400.9 39.6,394.5 41.6,386 43.7,382.7 45.7,386.4 47.8,393.9 49.8,399.4 51.9,402.8 54,405.7 56,410.1 58.1,416.3 60.1,425.5 62.2,434.6 64.2,441.7 66.3,443.9 68.4,442.9 70.4,440 72.5,434.6 74.5,426 76.6,413.4 78.6,402.3 80.7,395.4 82.8,391.6 84.8,388.4 86.9,385.2 88.9,383.4 91,384.3 93,385.5 95.1,385.3 97.2,383 99.2,385.8 101.3,393.8 103.3,405.4 105.4,414.1 107.4,419 109.5,420.9 111.6,419.5 113.6,417.2 115.7,412.7 117.7,411.2 119.8,411.8 121.8,420.3 123.9,433.3 126,446.9 128,456.4 130.1,459.8 132.1,459.3 134.2,458.6 136.2,458.9 138.3,460.9 140.4,461.9 142.4,462 144.5,461.3 146.5,460.9 148.6,460.8 150.6,460.5 152.7,459.1 154.8,454.2 156.8,446.4 158.9,437.6 160.9,430 163,424.3 165,419.5 167.1,415.2 169.2,411.3 171.2,408.2 173.3,408.9 175.3,415.9 177.4,428 179.4,435.8 181.5,435.8 183.6,430.7 185.6,430.6 187.7,436.6 189.7,444.3 191.8,448.1 193.8,446.1 195.9,438.9 198,428.2 200,417 202.1,409.8 204.1,403.5 206.2,398.8 208.2,393.7 210.3,388.8 212.4,384.2 214.4,380.4 216.5,381.6 218.5,385.7 220.6,389.3 222.6,389.9 224.7,389.1 226.7,389.8 228.8,392.8 230.9,398.1 232.9,405.1 235,413.1 237,421.2 239.1,427.4 241.1,427.1 243.2,416.9 245.3,401.7 247.3,391.1 249.4,388 251.4,389.9 253.5,393.1 255.5,394 257.6,392.4 259.7,389.1 261.7,387.7 263.8,388.4 265.8,389 267.9,390.3 269.9,391.8 272,395.5 274.1,397.9 276.1,402.3 278.2,407.9 280.2,417.6 282.3,433.2 284.3,448.1 286.4,455.5 288.5,454.8 290.5,452.2 292.6,447.3 294.6,434.6 296.7,414.8 298.7,395.3 300.8,384.7 302.9,381 304.9,384.7 307,396.5 309,418.8 311.1,441.2 313.1,454.9 315.2,459.6 317.3,460.7 319.3,461.4 321.4,460.7 323.4,458.5 325.5,455.7 327.5,455.7 329.6,458.1 331.7,458.7 333.7,451.6 335.8,436.6 337.8,417.9 339.9,404.1 341.9,397.2 344,394.2 346.1,389.9 348.1,383.3 350.2,377.9 352.2,375.2 354.3,377.6 356.3,385.4 358.4,397.1 360.5,409 362.5,416.2 364.6,422.5 366.6,428.6 368.7,434.8 370.7,440.3 372.8,446 374.9,452.4 376.9,459.5 379,463.7 381,464.9 383.1,463.1 385.1,459.7 387.2,455.1 389.3,454 391.3,455.7 393.4,458.3 395.4,456.5 397.5,452.1 399.5,444.3 401.6,430.3 403.7,414.3 405.7,402.9 407.8,398 409.8,391.3 411.9,383.3 413.9,378.5 416,383.4 418.1,398.1 420.1,419 422.2,437.6 424.2,446.8 426.3,445.2 428.3,432.5 430.4,414.7 432.4,397.1 434.5,388.5 436.6,385.9 438.6,385.6 440.7,382.4 442.7,378 444.8,375.4 446.8,375.9 448.9,379 451,381.7 453,382.3 455.1,380.1 457.1,376.6 459.2,375.2 461.2,376.9 463.3,381.6 465.4,388.2 467.4,395.1 469.5,400.7 471.5,407.4 473.6,413.8 475.6,422.5 477.7,432.7 479.8,444.7 481.8,455.8 483.9,459.8 485.9,459.2 488,458 490,459.3 492.1,461.1 494.2,460.1 496.2,457 498.3,453.9 500.3,454.3 502.4,457.4 504.4,461.7 506.5,463.9 508.6,464 510.6,461.2 512.7,453.7 514.7,443.5 516.8,438.6 518.8,439.8 520.9,443.3 523,442.1 525,437.5 527.1,435.7 529.1,438.2 531.2,447 533.2,455.9 535.3,462.8 537.4,462.2 539.4,455.5 541.5,446.6 543.5,442.9 545.6,443 547.6,444 549.7,439.7 551.8,433 553.8,424.2 555.9,416.2 557.9,409.4 560,403.1 562,399.2 564.1,401.5 566.2,412.5 568.2,427 570.3,440 572.3,448.3 574.4,452.8 576.4,455 578.5,454.1 580.6,450.1 582.6,443.6 584.7,437.6 586.7,432.1 588.8,425.5 590.8,416.4 592.9,401.8 595,388.7 597,381 599.1,382.1 601.1,387.8 603.2,397.1 605.2,407.4 607.3,419.9 609.4,433.5 611.4,444.2 613.5,449.2 615.5,446.3 617.6,441.4 619.6,435.2 621.7,434.2 623.8,436.5 625.8,442.2 627.9,446.9 629.9,449.6 632,449 634,444.2 636.1,434.7 638.1,423.1 640.2,412.2 642.3,400.9 644.3,390.8 646.4,382.9 648.4,380.5 650.5,382.9 652.5,386.2 654.6,387.9 656.7,384.7 658.7,381.8 660.8,380.7 662.8,381.4 664.9,382.8 666.9,382.9 669,383.8 671.1,382.9 673.1,381.9 675.2,378.6 677.2,376.3 679.3,375.8 681.3,382.7 683.4,394.6 685.5,409.4 687.5,423 689.6,435.3 691.6,447.5 693.7,457.9 695.7,463.8 697.8,464.5 699.9,459.3 701.9,449.2 704,438.4 706,431.3 708.1,428.7 710.1,427.8 712.2,425.7 714.3,414.6 716.3,402.3 718.4,392.5 720.4,391.7 722.5,393.4 724.5,394.1 726.6,395.4 728.7,399.2 730.7,410.7 732.8,421 734.8,420.4 736.9,405.2 738.9,389.1 741,381.5 743.1,381 745.1,381 747.2,380.4 749.2,383.6 751.3,388.3 753.3,392.2 755.4,391.5 757.5,392.3 759.5,399.1 761.6,412.5 763.6,431.3 765.7,448.8 767.7,461.2 769.8,466.5 771.9,467.2 773.9,464.9 776,459.7 778,454.5 780.1,451 782.1,450 784.2,450.4 786.3,451.8 788.3,454.8 790.4,456.9 792.4,452.2 794.5,438.9 796.5,423.2 798.6,416.7 800.7,419.9 802.7,427.5 804.8,428.6 806.8,425 808.9,415.6 810.9,407.1 813,401.7 815.1,401.1 817.1,403.3 819.2,402.9 821.2,401 823.3,398.3 825.3,395 827.4,391 829.5,388.1 831.5,390.1 833.6,395.6 835.6,408.4 837.7,426.5 839.7,445.6 841.8,459.4 843.8,464.7 845.9,459.6 848,445.2 850,431.7 852.1,424.6 854.1,424 856.2,422.3 858.2,416.8 860.3,410.2 862.4,405 864.4,401.2 866.5,398.3 868.5,396.4 870.6,395.1 872.6,393.6 874.7,388.7 876.8,382.3 878.8,378 880.9,378.7 882.9,383.7 885,388.2 887,391.5 889.1,393.8 891.2,403.8 893.2,419 895.3,434.9 897.3,442.2 899.4,446.3 901.4,449.3 903.5,454.4 905.6,458 907.6,460.7 909.7,462 911.7,462.1 913.8,460.9 915.8,458.4 917.9,455.3 920,454.1 922,454.6 924.1,454.3 926.1,451.1 928.2,447.4 930.2,444.1 932.3,438.1 934.4,425.7 936.4,407.3 938.5,392.3 940.5,384.6 942.6,382.3 944.6,381.4 946.7,378.9 948.8,376 950.8,374.1 952.9,374.5 954.9,376.3 957,378.6 959,381.7 961.1,383.8 963.2,382.9 965.2,379.1 967.3,376.1 969.3,377.9 971.4,381.3 973.4,385.7 975.5,392.2 977.6,402.2 979.6,413.4 981.7,423.7 983.7,434.3 985.8,448.8 987.8,460.3 989.9,466 992,465.8 994,464.2 996.1,462.6 998.1,461.2 1000.2,460.2 1002.2,459.9 1004.3,459.8 1006.4,460.6 1008.4,461.6 1010.5,462.3 1012.5,460.6 1014.6,455.2 1016.6,448.5 1018.7,445.3 1020.8,447.9 1022.8,454.5 1024.9,459.4 1026.9,460.7 1029,458.1 1031,454.8 1033.1,451.6 1035.2,448.7 1037.2,445.8 1039.3,440.5 1041.3,429.3 1043.4,412.6 1045.4,398.7 1047.5,390.6 1049.5,389.2 1051.6,389.5 1053.7,389.9 1055.7,390.7 1057.8,393.4 1059.8,397.4 1061.9,397.1 1063.9,390.4 1066,381 1068.1,375.4 1070.1,376.9 1072.2,380.6 1074.2,385.9 1076.3,390.2 1078.3,393.6 1080.4,394.4 1082.5,395.1 1084.5,401 1086.6,413.7 1088.6,430 1090.7,444.2 1092.7,452.9 1094.8,457.1 1096.9,459 1098.9,459.9 1101,457.7 1103,451.2 1105.1,442.4 1107.1,436.6 1109.2,434.8 1111.3,435.8 1113.3,436 1115.4,437 1117.4,440.5 1119.5,446 1121.5,448.3 1123.6,445.7 1125.7,440.6 1127.7,436.5 1129.8,433 1131.8,430.2 1133.9,428.8 1135.9,428.5 1138,427.8" fill="none" stroke="#f0792b" stroke-width="1.5" stroke-linejoin="round"/></g><g clip-path="url(#cr)"><polyline points="14.9,539.2 16.8,536.5 18.9,534 20.6,527.5 22.2,517.8 23.8,513.7 25.4,509.6 26.7,504 28.7,511.3 30.8,513.7 32,517 33.1,523.5 35.2,521.8 36.3,519.4 37.6,513.7 38.9,511.3 40.4,501.5 41.7,493.1 43.3,495.8 45,494.2 46.6,500.7 48.2,507.2 50.3,504.8 51.5,506.4 53.1,512.9 55.5,521.8 58,532.4 59.9,550.3 61.2,541.3 63.3,540.5 64.5,541.3 66.1,535.3 67.7,537.3 70.2,534 72.1,529.2 74.2,525.1 76.2,520.7 78,525.6 80.7,526.2 82.4,530.8 84,522.7 85.6,527.5 87.7,532.1 89.7,531.6 92.1,530 94.6,527.5 97.3,521.5 98.6,535.7 100.2,532.7 102.7,534.8 105.1,538.1 107.6,534 109.5,539.7 111.1,533.2 113.7,534 115.4,525.6 117.3,528.3 119.3,533.2 121.4,539.7 122.2,551.9 123,566.6 124.6,572.2 126.7,577.6 130.3,580 132,576 133.9,578.7 136.5,580.9 139.3,577.1 142,575 144.1,576.3 147.4,577.6 148.2,573.1 150.2,573.9 152.8,571.1 155.5,571.8 158.8,566.9 160.4,566.2 162.8,568.2 165.3,562 168.5,561.3 171,558.4 173.4,563.3 176.7,569 178.8,558.4 181.5,559.2 184,560.9 186.4,564.1 188.9,565.7 191.3,564.1 193.4,562.5 195,552.7 198.6,550.6 202.7,551.1 204.3,548.7 205,540.5 206.6,543.8 208.3,545.4 209.9,519.4 211.8,519.1 214.4,530.8 216.7,531.6 218.8,532.1 220.4,528.8 222.1,532.4 224.5,530 226.5,534.8 228.1,534 230.7,547 232.6,545.7 235.1,543.5 237,555.2 239.1,543.8 241.6,533.2 244,530 247.3,524.3 248.9,530 250.5,529.2 253.3,534.8 255.4,527.5 257.5,520.7 260,528.3 263.2,529.2 265.2,522.7 266.8,536.5 269.7,528.3 271.7,534 274.1,534.4 276.1,532.7 278.2,542.2 280.1,553.5 281.9,558.4 283.9,554.4 286.3,551.1 288.7,554.4 290.9,555.2 293.6,530.8 296.9,529.2 299,532.4 300.9,529.2 302.9,522.7 304.5,538.9 306.1,547 307.8,554.4 309.9,555.5 312.3,556 315.2,557.6 316.9,556.8 319.6,560 322.4,550.3 325,552.7 327,560 329.9,566.2 331.8,550.3 333.5,551.1 335.9,548.7 337.5,549 339.6,551.9 341.9,551.1 343.5,539.7 345.7,534.8 347.3,536.5 349.7,530.8 352.2,524.6 353.8,529.2 355.9,544.3 358.7,543 362.4,539.2 366,552.7 368.4,544.6 370,547.9 372,566.9 374.9,566.9 378.2,570.6 381.4,569 382.6,563.3 384.7,562 386.8,561.7 388.7,568.2 391.2,569 393.6,558.4 396.1,556.5 398.8,556.8 400,553.5 402,541.8 403.6,545.4 405.2,554.4 406.8,546.2 408.9,538.9 411.1,536.5 413.8,541.3 416.3,550.3 418.7,558.4 420.3,559.2 422,553.5 424.4,551.1 426,545.4 427.6,530.8 430.1,535.7 432,530.5 434.5,534.8 436.1,534.8 438.2,530 440.7,525.1 442,514.5 443.6,510 447.2,510 448.8,512.9 450.1,519.4 452,514.5 454.5,506.7 457.2,508 458.9,512.9 460.5,515.3 463.4,525.6 465,525.9 466.7,532.7 469.1,529.5 471.5,530.3 474,530.5 475.6,534 477.7,547 479.7,558.4 480.5,561.7 482.9,563 485.9,559.7 487.8,571.4 490.2,577.1 491.9,566.2 495.1,566.2 497.9,565.7 499.5,574.4 502.1,572.2 504.9,574.7 507,575.8 508.9,569 510.6,566.6 512.5,556.8 514.6,550.6 516.3,569.8 518.7,573.9 520.7,563 522.8,564.1 524.9,562.5 527.2,566.6 529.3,569 531.7,572.2 533.3,572.2 535.4,574.4 537.4,560 538.5,558.1 541.1,562.5 543.1,569.8 545.5,567.9 547.2,566.6 549.6,559.7 551.5,555.2 553.7,557.1 557.4,556.3 559.3,551.9 561.8,554.4 563.4,560 565,565.7 567.5,568.2 569.9,566.9 572.4,569.5 574.3,572.7 575.9,569 577.2,573.4 579.7,569 581.8,563.8 583.7,562.8 585.7,561.3 587.8,547.9 590.2,539.7 591.9,538.1 593.8,537 595,538.1 596.6,539.7 598.6,547 600.7,551.9 602.8,557.6 604.4,556.8 606.1,566.6 607.7,576 609.3,569.8 610.8,562.8 613.2,572.7 614.8,553.2 617,553.2 618.6,554.4 621,558.4 623.5,560.9 625.6,563.3 627,566.6 629.5,560.9 631.6,561.7 634,556 635.7,553.5 637.6,547.9 640.2,544.6 642.5,538.1 644.1,535.3 646.2,534 647.8,528.8 649.5,547.4 651.9,531.6 654.3,532.4 656.8,534.8 658.4,530.8 660,535.7 662.5,531.6 664.1,532.1 665.7,530 669,533.7 670.6,530 673.5,527.9 675.5,514.5 676.8,512.6 678.7,517 681.2,526.7 682.8,528.3 685.7,543.8 687.2,541.3 690.1,551.1 692.6,553.5 695,554.4 697.1,553.9 699.1,543 701.5,538.1 703.9,538.9 706.4,540.2 708,546.2 709.6,541.3 712.1,541.7 713.7,530 716.1,530 718.6,534.8 720.2,532.1 721.8,532.7 724.3,530 726.4,541.3 728.3,541.3 730.8,549 732.4,547 734.5,526.7 736.1,524.6 738.1,530 740.5,530.8 742.6,524 744.9,524.6 746.7,510.5 748.7,534 751.1,526.7 753,525.9 755.2,527.5 757.3,531.6 758.9,548.7 761.7,551.9 763.8,557.6 766.5,560 769.3,562.5 771.4,566.6 773.9,566.9 775.2,557.1 777.1,559.2 779.6,562.5 781.7,559.2 783.9,558.7 785.6,574.7 787.7,580 789.8,576 792,560 794.1,553.5 796.5,550 798.1,564.1 800.6,562 802.7,557.1 805.4,554.4 807.9,551.9 809.8,541.3 812.8,551.1 815.2,548.7 817.6,543.8 819.3,541.3 820.9,545.4 823.3,541.8 825,534 827.1,533.7 829,534.8 831.5,539.7 833.9,542.2 835.5,553.5 837.2,558.4 839.6,561.7 841.7,567.4 843.3,566.9 845.3,553.5 847.4,537.6 848.9,551.1 851.5,550.3 853.4,543.5 855.9,542.5 858,543.5 859.6,538.1 862.4,538.6 864,539.2 866.1,536 868.4,536.5 870,543 872.1,530.8 874.2,519.7 876.5,523.5 879.4,525.1 881.9,534 884.3,529.5 885.9,530 888.4,536.5 890,543 891.1,550.3 893.3,550.3 895.4,554.4 897,542.5 898.6,552.7 901.4,549 903,550 905.4,554.4 907.4,558.4 909,557.6 911.1,560.9 913.3,564.1 915.2,556 917.6,553.9 919.3,561.7 920.9,567.4 923,560 925,557.3 927.4,560.9 930.2,564.6 931.5,548.7 933.9,537.3 935.5,536.5 937.6,531.6 940.4,531.3 942,534 944.5,530 946.1,522.7 947.7,515.3 950.2,517 952.6,519.4 954.2,519.7 956.7,523.5 958.6,533.2 960.7,525.9 962.4,520.2 964.3,517.8 967.2,521 968.9,532.4 970.8,521 973.4,520.5 975.4,530 977.8,531.6 979.4,529.2 981.5,544.6 983.5,554.4 985,564.1 987.4,562.5 990.7,562 992.8,568.2 995.6,568.2 998,571.1 1000.4,571.1 1002.6,569.8 1004.5,573.1 1006.5,577.9 1007.8,580.4 1009.7,575 1012.3,574.4 1013.9,565.7 1016.7,566.1 1018.3,574.4 1020,573.1 1021.6,579.6 1022.9,583.6 1024.8,577.1 1027,573.1 1028.9,569.8 1030.9,571.1 1033.5,569.8 1035.1,563.3 1036.7,569.8 1037.8,560 1039.5,547 1041.1,546.7 1042.7,543 1045.2,544.6 1047.6,547.9 1050,547.4 1053,544.6 1055.7,551.9 1057.4,549.5 1059,551.1 1061.1,543.8 1063,537.3 1065.5,534 1067.6,531.1 1069.6,537.6 1071.2,532.1 1072.5,529.5 1074.1,538.1 1075.6,543.5 1078.5,534.4 1081.3,541.8 1082.6,547 1084.5,556.5 1086.6,554.8 1088.7,553.5 1090.7,558.4 1092.6,564.9 1094.8,574.7 1096.4,583.6 1098,589.3 1099.6,574.7 1100.9,561.3 1102.9,560.9 1105.3,557.6 1107.8,560.9 1110.2,562.5 1112.6,560.9 1115.1,568.2 1117,573.9 1118.7,573.1 1120.8,565.3 1123.2,566.9 1125.7,566.9 1128.1,566.6 1130.9,560 1133.8,566.6 1135.4,559.7 1137,559.2 1140.3,556.3" fill="none" stroke="#8a1fa0" stroke-width="1.45" stroke-linejoin="round"/></g><path d="M15 600.5H1467" stroke="#4a4c52" stroke-width="1" fill="none"/><path d="M1374.5 6V648" stroke="#4a4c52" stroke-width="1" fill="none"/><g clip-path="url(#ca)"><text x="1389.2" y="117.8" font-size="20.8" fill="#53555a" stroke="#53555a" stroke-width="0.3" stroke-linejoin="round" font-weight="normal" textLength="51.6" lengthAdjust="spacingAndGlyphs">72.00</text><text x="1389.2" y="178.8" font-size="20.8" fill="#53555a" stroke="#53555a" stroke-width="0.3" stroke-linejoin="round" font-weight="normal" textLength="51.6" lengthAdjust="spacingAndGlyphs">68.00</text><text x="1389.2" y="239.8" font-size="20.8" fill="#53555a" stroke="#53555a" stroke-width="0.3" stroke-linejoin="round" font-weight="normal" textLength="51.6" lengthAdjust="spacingAndGlyphs">64.00</text><text x="1389.2" y="300.8" font-size="20.8" fill="#53555a" stroke="#53555a" stroke-width="0.3" stroke-linejoin="round" font-weight="normal" textLength="51.6" lengthAdjust="spacingAndGlyphs">60.00</text><text x="1389.2" y="361.8" font-size="20.8" fill="#53555a" stroke="#53555a" stroke-width="0.3" stroke-linejoin="round" font-weight="normal" textLength="51.6" lengthAdjust="spacingAndGlyphs">56.00</text></g><text x="1390.3" y="375.6" font-size="20.8" fill="#53555a" stroke="#53555a" stroke-width="0.3" stroke-linejoin="round" font-weight="normal" textLength="61" lengthAdjust="spacingAndGlyphs">100.00</text><text x="1389.1" y="478.5" font-size="20.8" fill="#53555a" stroke="#53555a" stroke-width="0.3" stroke-linejoin="round" font-weight="normal" textLength="39.9" lengthAdjust="spacingAndGlyphs">0.00</text><text x="1389.1" y="507.2" font-size="20.8" fill="#53555a" stroke="#53555a" stroke-width="0.3" stroke-linejoin="round" font-weight="normal" textLength="51.4" lengthAdjust="spacingAndGlyphs">80.00</text><text x="1389.1" y="568" font-size="20.8" fill="#53555a" stroke="#53555a" stroke-width="0.3" stroke-linejoin="round" font-weight="normal" textLength="51.4" lengthAdjust="spacingAndGlyphs">40.00</text><path d="M1374.5 295.1H1446a3 3 0 0 1 3 3V322.7a3 3 0 0 1-3 3H1374.5z" fill="#2db72b"/><text x="1389.6" y="317.4" font-size="19.5" fill="#fff" font-weight="bold" textLength="50.9" lengthAdjust="spacingAndGlyphs">58.88</text><rect x="1380.5" y="11.5" width="79.5" height="74.5" rx="6" fill="#fff" stroke="#eceef1" stroke-width="1.2"/><text x="1394.9" y="36.7" font-size="17" fill="#101216" stroke="#101216" stroke-width="0.4" stroke-linejoin="round" font-weight="normal" textLength="29.8" lengthAdjust="spacingAndGlyphs">USD</text><text x="1394.9" y="73.8" font-size="17" fill="#101216" stroke="#101216" stroke-width="0.4" stroke-linejoin="round" font-weight="normal" textLength="27.1" lengthAdjust="spacingAndGlyphs">BLL</text><text x="179.1" y="631.2" font-size="20.6" fill="#54565c" font-weight="bold" textLength="28.8" lengthAdjust="spacingAndGlyphs">Jul</text><text x="457.5" y="631.2" font-size="20.6" fill="#54565c" font-weight="bold" textLength="35.9" lengthAdjust="spacingAndGlyphs">Aug</text><text x="717.4" y="631.2" font-size="20.6" fill="#54565c" font-weight="bold" textLength="34" lengthAdjust="spacingAndGlyphs">Sep</text><text x="989.8" y="631.2" font-size="20.6" fill="#54565c" font-weight="bold" textLength="33.4" lengthAdjust="spacingAndGlyphs">Oct</text><text x="1268" y="631.2" font-size="20.6" fill="#54565c" font-weight="bold" textLength="36.6" lengthAdjust="spacingAndGlyphs">Nov</text><g transform="translate(18.2,676.1) scale(1.245)" fill="#131313"><path d="M14 22H7V11H0V4h14v18zM28 22h-8l7.5-18h8L28 22z"/><circle cx="20" cy="8" r="4"/></g><defs><clipPath id="cx"><rect x="225" y="687.2" width="40" height="16.2"/></clipPath><clipPath id="cv"><rect x="175" y="681.1" width="40" height="22.3"/></clipPath></defs><g fill="none" stroke="#121212" stroke-width="4.3"><path d="M73.4 683.25H89.9M81.6 681.2V703.4"/><path d="M92.3 687.2V703.4M92.3 697C92.3 691.6 95 689.2 99.6 689.4"/><circle cx="108.5" cy="695.35" r="6.1"/><path d="M114.6 687.2V703.4"/><circle cx="128" cy="695.35" r="6.1"/><path d="M134.4 681.1V703.4"/><path d="M141.9 687.2V703.4"/><path d="M149 687.2V703.4M149 697C149 691.4 151.4 689.2 154.6 689.2C158 689.2 159.8 691.4 159.8 695.5V703.4"/><circle cx="173.2" cy="695.35" r="6.1"/><path d="M179.4 687.2V702.6C179.4 707.2 176.8 708.5 173.4 708.5C170.4 708.5 168.2 707.5 166.4 705.3"/><path d="M207.9 687.2V703.4"/><path d="M227.3 695.9A6.1 6.1 0 1 0 225.6 699.9" /><path d="M215.4 695.8H227.6" stroke-width="3.6"/></g><g fill="#121212"><circle cx="141.9" cy="682.9" r="2.65"/><circle cx="207.9" cy="682.9" r="2.65"/></g><g fill="none" stroke="#121212" stroke-linejoin="miter" stroke-miterlimit="10"><path clip-path="url(#cv)" d="M181.83 676.64L192.75 703.4L203.67 676.64" stroke-width="4.4"/><path clip-path="url(#cx)" d="M231 684L236.9 703.4L242.5 687.2L248.1 703.4L253.9 684" stroke-width="4.2"/></g></svg></body></html>
